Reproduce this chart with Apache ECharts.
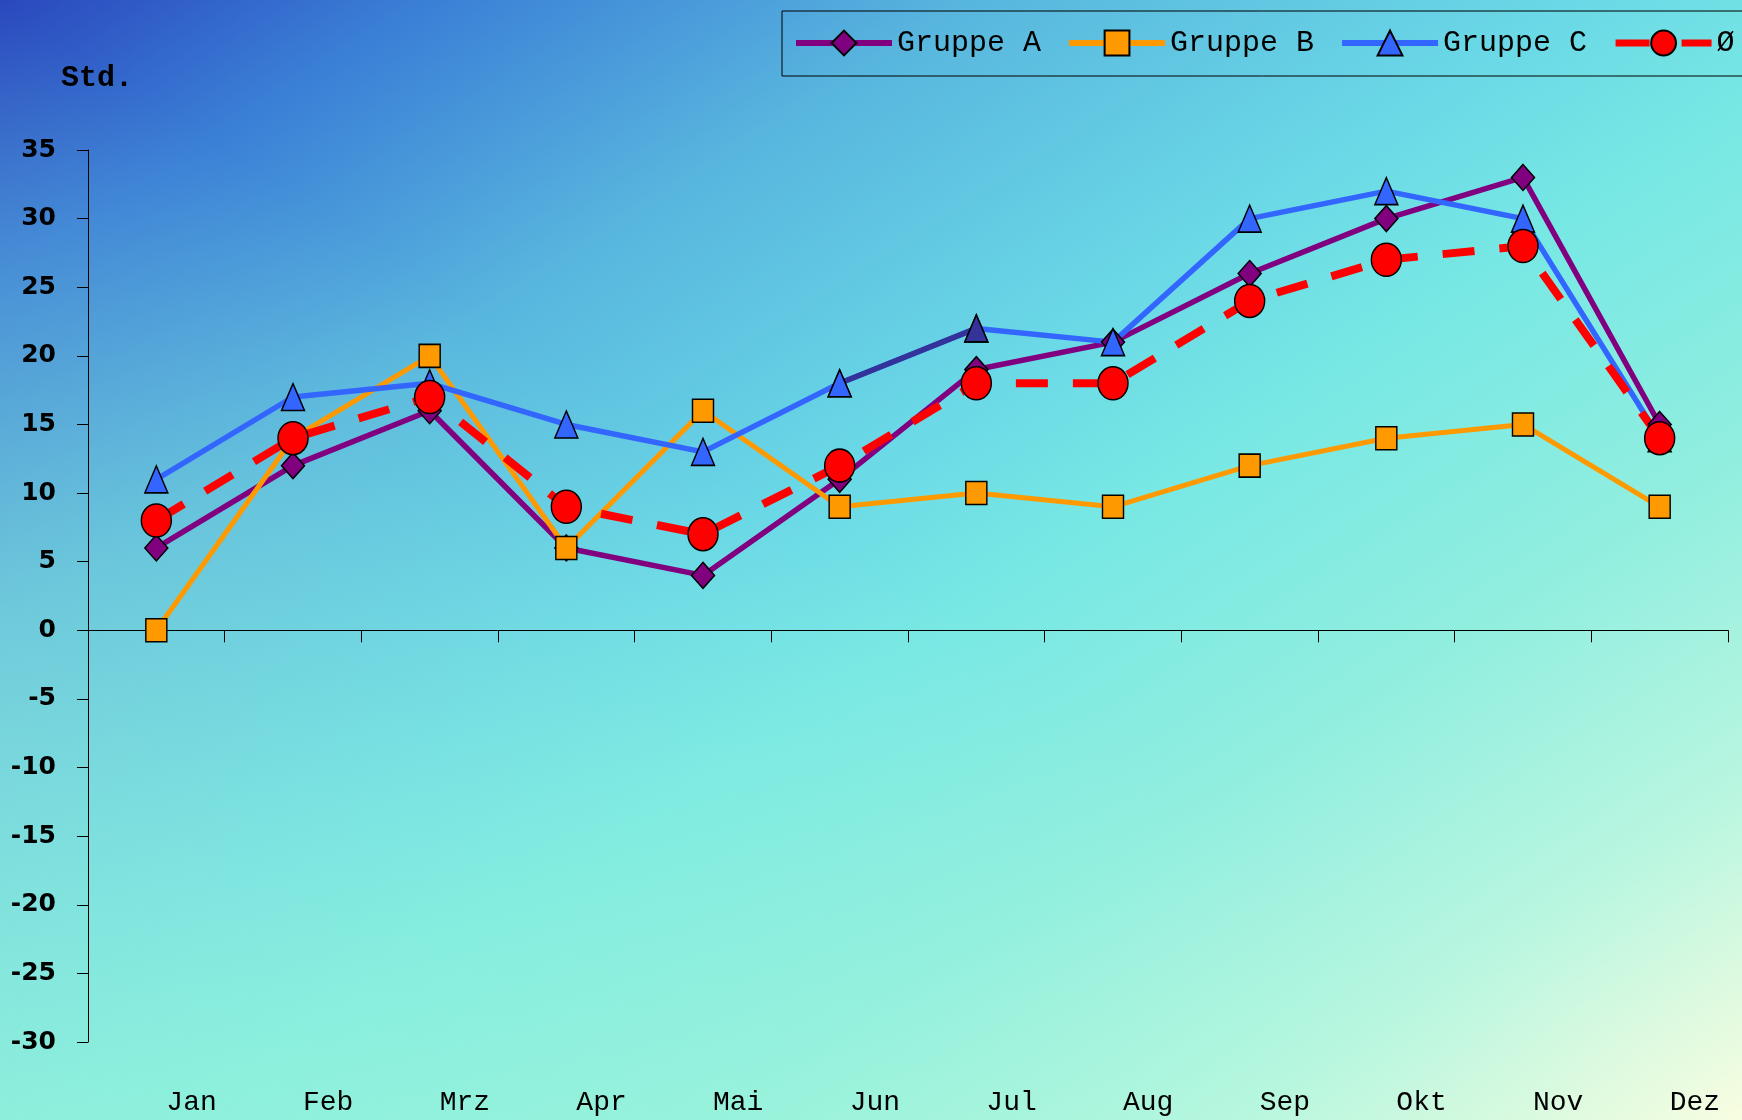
<!DOCTYPE html>
<html>
<head>
<meta charset="utf-8">
<title>Std. je Monat</title>
<script src="https://cdn.jsdelivr.net/npm/echarts@6/dist/echarts.min.js"></script>
<style>
  html, body { margin: 0; padding: 0; }
  body {
    width: 1742px;
    height: 1120px;
    background:
      linear-gradient(to top right, rgba(165, 250, 212, 0.55) 0%, rgba(165, 250, 212, 0) 50%),
      linear-gradient(to bottom right, #2a48bd 0%, #3a7ed6 12%, #58b6de 28%, #6ad8e6 45%, #78e8e4 55%, #90eedf 70%, #b8f6e0 85%, #f8fde0 100%);
  }
  #chart { width: 1742px; height: 1120px; }
</style>
</head>
<body>
<div id="chart"></div>
<script>
const months = ['Jan', 'Feb', 'Mrz', 'Apr', 'Mai', 'Jun', 'Jul', 'Aug', 'Sep', 'Okt', 'Nov', 'Dez']
const gruppeA = [6, 12, 16, 6, 4, 11, 19, 21, 26, 30, 33, 15]
const gruppeB = [0, 14, 20, 6, 16, 9, 10, 9, 12, 14, 15, 9]
const gruppeC = [11, 17, 18, 15, 13, 18, 22, 21, 30, 32, 30, 14]
const mittel = [8, 14, 17, 9, 7, 12, 18, 18, 24, 27, 28, 14]

const monoFont = 'Liberation Mono'
const symbolBorder = { borderColor: '#000', borderWidth: 1.5 }

const chart = echarts.init(document.getElementById('chart'), null, { renderer: 'canvas' })

// dunkles Teilstück von Gruppe C (Jun -> Jul)
const darkPart = gruppeC.map((v, i) => {
  if (i === 5) return { value: v, itemStyle: { color: '#3366ff' } }
  if (i === 6) return { value: v, itemStyle: { color: '#333399' } }
  return '-'
})

chart.setOption({
  backgroundColor: 'transparent',
  animation: false,
  title: {
    text: 'Std.',
    left: 56,
    top: 58,
    textStyle: { fontFamily: monoFont, fontWeight: 'bold', fontSize: 30, color: '#000' }
  },
  legend: {
    data: [
      { name: 'Gruppe A', lineStyle: { width: 6 } },
      { name: 'Gruppe B', lineStyle: { width: 6 } },
      { name: 'Gruppe C', lineStyle: { width: 6 } },
      { name: 'Ø', lineStyle: { width: 7, type: [34, 32] } }
    ],
    orient: 'horizontal',
    left: 782,
    top: 11,
    width: 1100,
    padding: [17, 40, 18, 11],
    borderColor: '#000',
    borderWidth: 1,
    itemWidth: 96,
    itemHeight: 31,
    itemGap: 25,
    textStyle: { fontFamily: monoFont, fontSize: 30, color: '#000' }
  },
  grid: { left: 88, right: 14, top: 150, bottom: 78 },
  xAxis: [
    {
      type: 'category',
      data: months,
      boundaryGap: true,
      axisLine: { onZero: true, lineStyle: { color: '#000', width: 1 } },
      axisTick: { show: true, length: 12, lineStyle: { color: '#000' } },
      axisLabel: { show: false },
      splitLine: { show: false }
    },
    {
      type: 'category',
      data: months,
      position: 'bottom',
      boundaryGap: true,
      axisLine: { show: false, onZero: false },
      axisTick: { show: false },
      axisLabel: {
        show: true,
        align: 'left',
        padding: [0, 0, 0, 10],
        margin: 47,
        fontFamily: monoFont,
        fontSize: 28,
        color: '#000'
      },
      splitLine: { show: false }
    }
  ],
  yAxis: {
    type: 'value',
    min: -30,
    max: 35,
    interval: 5,
    axisLine: { show: true, lineStyle: { color: '#000', width: 1 } },
    axisTick: { show: true, length: 11, lineStyle: { color: '#000' } },
    axisLabel: {
      margin: 32,
      fontFamily: 'DejaVu Sans',
      fontWeight: 'bold',
      fontSize: 25,
      color: '#000'
    },
    splitLine: { show: false }
  },
  series: [
    {
      name: 'Gruppe A',
      type: 'line',
      data: gruppeA,
      symbol: 'diamond',
      symbolSize: [23, 26],
      color: '#800080',
      lineStyle: { width: 5.5, color: '#800080' },
      itemStyle: Object.assign({ color: '#800080' }, symbolBorder)
    },
    {
      name: 'Gruppe B',
      type: 'line',
      data: gruppeB,
      symbol: 'rect',
      symbolSize: [21, 23],
      color: '#ff9900',
      lineStyle: { width: 5, color: '#ff9900' },
      itemStyle: Object.assign({ color: '#ff9900' }, symbolBorder)
    },
    {
      name: 'Gruppe C',
      type: 'line',
      data: gruppeC,
      symbol: 'triangle',
      symbolSize: [23, 27],
      color: '#3366ff',
      lineStyle: { width: 5.5, color: '#3366ff' },
      itemStyle: Object.assign({ color: '#3366ff' }, symbolBorder)
    },
    {
      name: 'Gruppe C (Jul)',
      type: 'line',
      data: darkPart,
      symbol: 'triangle',
      symbolSize: [23, 27],
      lineStyle: { width: 5.5, color: '#333399' },
      itemStyle: symbolBorder
    },
    {
      name: 'Ø',
      type: 'line',
      data: mittel,
      symbol: 'circle',
      symbolSize: [30, 33],
      color: '#ff0000',
      lineStyle: { width: 8, color: '#ff0000', type: [32, 25] },
      itemStyle: Object.assign({ color: '#ff0000' }, symbolBorder)
    }
  ]
})
</script>
</body>
</html>
